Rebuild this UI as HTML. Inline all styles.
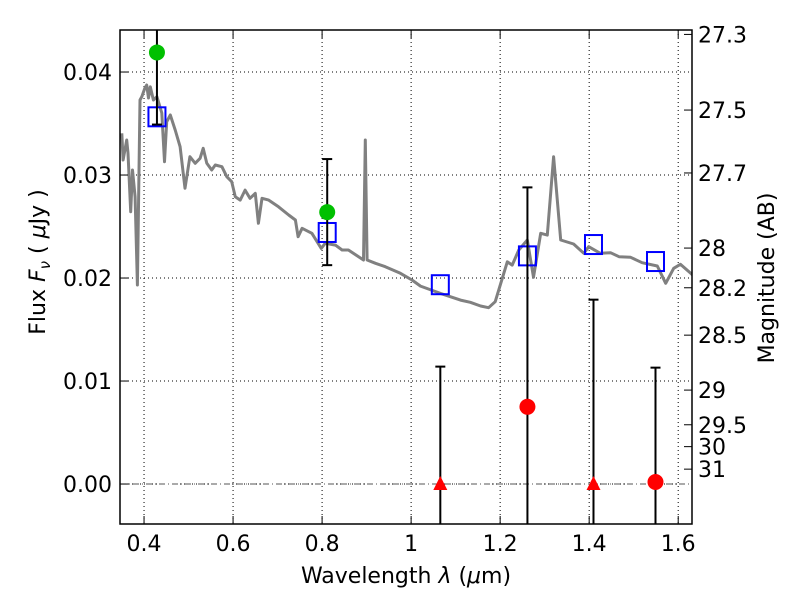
<!DOCTYPE html>
<html><head><meta charset="utf-8">
<style>
html,body{margin:0;padding:0;background:#fff;overflow:hidden;width:800px;height:600px;}
svg{display:block;}
svg text{font-family:"DejaVu Sans","Liberation Sans",sans-serif;fill:#000;}
</style></head>
<body>
<svg id="chart" width="800" height="600" viewBox="0 0 800 600">
<defs><clipPath id="clip"><rect x="120" y="30" width="572" height="494"/></clipPath></defs>
<rect width="800" height="600" fill="#fff"/>
<g id="grid"></g>
<g id="plot" clip-path="url(#clip)"></g>
<g id="axes"></g>
</svg>
<script>
const specWave=[0.350,0.353,0.361,0.364,0.370,0.374,0.380,0.385,0.391,0.395,0.402,0.406,0.410,0.414,0.421,0.429,0.440,0.446,0.451,0.459,0.470,0.481,0.492,0.503,0.515,0.526,0.533,0.541,0.552,0.560,0.575,0.586,0.597,0.605,0.616,0.627,0.638,0.650,0.657,0.665,0.680,0.702,0.725,0.740,0.746,0.755,0.777,0.798,0.807,0.830,0.845,0.859,0.893,0.897,0.901,0.920,0.942,0.976,1.002,1.021,1.066,1.111,1.133,1.156,1.174,1.189,1.216,1.227,1.242,1.261,1.275,1.291,1.306,1.320,1.336,1.365,1.388,1.399,1.425,1.448,1.467,1.493,1.519,1.553,1.572,1.590,1.605,1.628,1.640];
const specFlux=[0.03405,0.03146,0.0334,0.03214,0.02644,0.03049,0.02789,0.01932,0.03728,0.0376,0.03845,0.03874,0.03748,0.03857,0.03728,0.0376,0.03602,0.03129,0.03517,0.03583,0.03437,0.03275,0.02871,0.03178,0.03114,0.03162,0.03259,0.03114,0.03049,0.03097,0.03081,0.02984,0.02935,0.02789,0.02757,0.02854,0.02774,0.02822,0.02531,0.02774,0.02757,0.02692,0.02612,0.02563,0.02401,0.02483,0.02434,0.02288,0.02337,0.0232,0.02272,0.02272,0.02175,0.0334,0.02175,0.02143,0.0211,0.02046,0.01981,0.01922,0.01851,0.01786,0.01764,0.01728,0.01712,0.0177,0.02158,0.02126,0.02272,0.02369,0.02007,0.02434,0.02417,0.03178,0.02369,0.0233,0.0224,0.02304,0.0224,0.02246,0.02207,0.02201,0.02149,0.02117,0.01949,0.02094,0.02133,0.02046,0.0200];
const modelWave=[0.429,0.8115,1.0656,1.2613,1.4097,1.549];
const modelFlux=[0.0357,0.02447,0.0194,0.0222,0.0233,0.02165];
const detWave=[0.429,0.8115];
const detFlux=[0.0419,0.0264];
const detErr=[0.007,0.00515];
const ndWave=[1.0656,1.2613,1.4097,1.549];
const ndFlux=[0.0,0.0075,0.0,0.0002];
const ndErr=[0.0114,0.0213,0.0179,0.0111];
const ndShape=["tri","circle","tri","circle"];
const xTicks=[0.4,0.6,0.8,1.0,1.2,1.4,1.6];
const xTickLabels=["0.4","0.6","0.8","1","1.2","1.4","1.6"];
const yTicks=[0.0,0.01,0.02,0.03,0.04];
const yTickLabels=["0.00","0.01","0.02","0.03","0.04"];
const magTicks=[27.3,27.5,27.7,28,28.2,28.5,29,29.5,30,31];

const L=120,R=692,T=30,B=524,XMIN=0.346,XMAX=1.631,YMIN=-0.00388,YMAX=0.04408;
const sx=v=>L+(v-XMIN)/(XMAX-XMIN)*(R-L);
const sy=v=>B-(v-YMIN)/(YMAX-YMIN)*(B-T);
const NS="http://www.w3.org/2000/svg";
function mk(tag,attrs,parent){const e=document.createElementNS(NS,tag);for(const k in attrs)e.setAttribute(k,attrs[k]);parent.appendChild(e);return e;}
const grid=document.getElementById('grid'),plot=document.getElementById('plot'),axes=document.getElementById('axes');
const FS=22;
xTicks.forEach((t,i)=>{
  const g=mk('line',{x1:sx(t),x2:sx(t),y1:T,y2:B,stroke:'#000','stroke-width':1,'stroke-dasharray':'1,3'},grid);
  
  
  const tk=mk('line',{x1:sx(t),x2:sx(t),y1:B,y2:B-8,stroke:'#000','stroke-width':1},axes);
  
  
  const tk2=mk('line',{x1:sx(t),x2:sx(t),y1:T,y2:T+8,stroke:'#000','stroke-width':1},axes);
  
  
  const lb=mk('text',{x:sx(t),y:B+27,'text-anchor':'middle','font-size':FS},axes);
  lb.textContent=xTickLabels[i];
  
  
});
yTicks.forEach((t,i)=>{
  const g=mk('line',{x1:L,x2:R,y1:sy(t),y2:sy(t),stroke:'#000','stroke-width':1,'stroke-dasharray':'1,3'},grid);
  
  
  const tk=mk('line',{x1:L,x2:L+8,y1:sy(t),y2:sy(t),stroke:'#000','stroke-width':1},axes);
  
  
  const lb=mk('text',{x:L-8,y:sy(t)+8,'text-anchor':'end','font-size':FS},axes);
  lb.textContent=yTickLabels[i];
  
  
});
magTicks.forEach(m=>{
  const f=Math.pow(10,(23.9-m)/2.5);
  const tk=mk('line',{x1:R,x2:R-8,y1:sy(f),y2:sy(f),stroke:'#000','stroke-width':1},axes);
  
  
  const lb=mk('text',{x:R+6,y:sy(f)+8,'font-size':FS},axes);
  lb.textContent=String(m);
  
  
});
const zl=mk('line',{x1:L,x2:R,y1:sy(0),y2:sy(0),stroke:'#555','stroke-width':1,'stroke-dasharray':'6,3,1,3'},plot);


const pts=specWave.map((w,i)=>sx(w).toFixed(1)+','+sy(specFlux[i]).toFixed(1)).join(' ');
const sp=mk('polyline',{points:pts,fill:'none',stroke:'#808080','stroke-width':3,'stroke-linejoin':'round'},plot);


modelWave.forEach((w,i)=>{
  const r=mk('rect',{x:sx(w)-8.5,y:sy(modelFlux[i])-9,width:17,height:19,fill:'none',stroke:'#0000ff','stroke-width':2},plot);
  
  
});
detWave.forEach((w,i)=>{
  const x=sx(w);
  const e=mk('line',{x1:x,x2:x,y1:sy(detFlux[i]+detErr[i]),y2:sy(detFlux[i]-detErr[i]),stroke:'#000','stroke-width':2},plot);
  
  
  [detFlux[i]+detErr[i],detFlux[i]-detErr[i]].forEach(v=>{
    const c=mk('line',{x1:x-5,x2:x+5,y1:sy(v),y2:sy(v),stroke:'#000','stroke-width':2},plot);
    
    
  });
  const p=mk('circle',{cx:x,cy:sy(detFlux[i]),r:8,fill:'#00c000'},plot);
  
  
});
ndWave.forEach((w,i)=>{
  const x=sx(w);
  const e=mk('line',{x1:x,x2:x,y1:sy(ndFlux[i]+ndErr[i]),y2:sy(ndFlux[i]-ndErr[i]),stroke:'#000','stroke-width':2},plot);
  
  
  const c=mk('line',{x1:x-5,x2:x+5,y1:sy(ndFlux[i]+ndErr[i]),y2:sy(ndFlux[i]+ndErr[i]),stroke:'#000','stroke-width':2},plot);
  
  
  const y=sy(ndFlux[i]);
  let p;
  if(ndShape[i]==='tri'){
    p=mk('polygon',{points:`${x},${y-8} ${x-7},${y+6} ${x+7},${y+6}`,fill:'#ff0000'},plot);
  }else{
    p=mk('circle',{cx:x,cy:y,r:8,fill:'#ff0000'},plot);
  }
  
  
});
const fr=mk('rect',{x:L,y:T,width:R-L,height:B-T,fill:'none',stroke:'#000','stroke-width':1.5},axes);


const xt=mk('text',{x:406,y:583,'text-anchor':'middle','font-size':FS},axes);
xt.innerHTML='Wavelength  <tspan font-style="italic">λ</tspan> (<tspan font-style="italic">μ</tspan>m)';


const yt=mk('text',{x:0,y:0,'text-anchor':'middle','font-size':FS,transform:'translate(45,262) rotate(-90)'},axes);
yt.innerHTML='Flux  <tspan font-style="italic">F</tspan><tspan font-style="italic" font-size="15" dy="5">ν</tspan><tspan dy="-5">  (  </tspan><tspan font-style="italic">μ</tspan>Jy )';


const rt=mk('text',{x:0,y:0,'text-anchor':'middle','font-size':FS,transform:'translate(774,278) rotate(-90)'},axes);
rt.textContent='Magnitude (AB)';


</script>
</body></html>
